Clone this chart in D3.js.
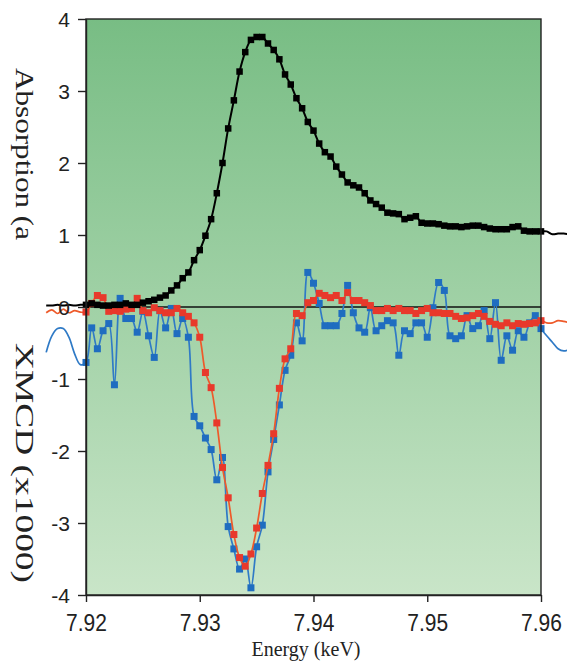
<!DOCTYPE html>
<html>
<head>
<meta charset="utf-8">
<script src="https://cdn.jsdelivr.net/npm/d3@7"></script>
<style>
  body { margin: 0; background: #fff; }
  svg { display: block; }
</style>
</head>
<body>
<svg id="chart" width="567" height="661"></svg>
<script>
// Photon energy grid (keV)
const energy = [
  7.9165, 7.9170, 7.9175, 7.9180, 7.9185, 7.9190, 7.9195, 7.9200, 7.9205, 7.9210,
  7.9215, 7.9220, 7.9225, 7.9230, 7.9235, 7.9240, 7.9245, 7.9250, 7.9255, 7.9260,
  7.9265, 7.9270, 7.9275, 7.9280, 7.9285, 7.9290, 7.9295, 7.9300, 7.9305, 7.9310,
  7.9315, 7.9320, 7.9325, 7.9330, 7.9335, 7.9340, 7.9345, 7.9350, 7.9355, 7.9360,
  7.9365, 7.9370, 7.9375, 7.9380, 7.9385, 7.9390, 7.9395, 7.9400, 7.9405, 7.9410,
  7.9415, 7.9420, 7.9425, 7.9430, 7.9435, 7.9440, 7.9445, 7.9450, 7.9455, 7.9460,
  7.9465, 7.9470, 7.9475, 7.9480, 7.9485, 7.9490, 7.9495, 7.9500, 7.9505, 7.9510,
  7.9515, 7.9520, 7.9525, 7.9530, 7.9535, 7.9540, 7.9545, 7.9550, 7.9555, 7.9560,
  7.9565, 7.9570, 7.9575, 7.9580, 7.9585, 7.9590, 7.9595, 7.9600, 7.9605, 7.9610,
  7.9615, 7.9620, 7.9625
];

// Normalised absorption
const absorption = [
  0.02, 0.02, 0.03, 0.02, 0.03, 0.02, 0.03, 0.03, 0.05, 0.03,
  0.02, 0.02, 0.03, 0.03, 0.05, 0.03, 0.03, 0.06, 0.08, 0.10,
  0.13, 0.16, 0.23, 0.30, 0.40, 0.48, 0.65, 0.79, 0.99, 1.22,
  1.58, 2.00, 2.48, 2.87, 3.27, 3.54, 3.71, 3.75, 3.75, 3.66,
  3.57, 3.44, 3.23, 3.09, 2.90, 2.76, 2.57, 2.45, 2.27, 2.15,
  2.09, 1.95, 1.84, 1.73, 1.69, 1.66, 1.58, 1.48, 1.43, 1.38,
  1.31, 1.30, 1.29, 1.22, 1.24, 1.26, 1.17, 1.16, 1.16, 1.15,
  1.13, 1.12, 1.12, 1.11, 1.12, 1.13, 1.13, 1.11, 1.09, 1.08,
  1.08, 1.08, 1.11, 1.12, 1.06, 1.05, 1.05, 1.05, 1.05, 1.01,
  1.02, 1.02, 1.01
];

// XMCD signal (x1000), red series
const xmcdRed = [
  -0.08, -0.04, -0.09, -0.03, -0.08, -0.05, -0.07, -0.07, 0.05, 0.16,
  0.13, -0.06, -0.05, -0.06, -0.03, -0.02, 0.12, -0.05, -0.08, -0.01,
  -0.05, -0.08, -0.08, -0.02, -0.08, -0.13, -0.22, -0.42, -0.91, -1.12,
  -1.61, -2.23, -2.65, -3.16, -3.48, -3.60, -3.43, -3.07, -2.59, -2.20,
  -1.76, -1.13, -0.72, -0.58, -0.09, -0.12, 0.06, 0.09, 0.19, 0.16,
  0.13, 0.16, 0.09, 0.20, 0.09, 0.09, 0.06, 0.02, -0.05, -0.05,
  -0.02, -0.05, -0.02, -0.05, -0.05, -0.09, -0.05, -0.02, -0.08, -0.08,
  -0.09, -0.09, -0.13, -0.16, -0.15, -0.12, -0.09, -0.13, -0.20, -0.24,
  -0.26, -0.22, -0.26, -0.23, -0.24, -0.23, -0.22, -0.19, -0.22, -0.22,
  -0.19, -0.20, -0.22
];

// XMCD signal (x1000), blue series
const xmcdBlue = [
  -0.63, -0.40, -0.30, -0.30, -0.42, -0.65, -0.80, -0.77, -0.29, -0.58,
  -0.33, -0.23, -1.08, 0.12, -0.16, -0.16, -0.35, -0.06, -0.40, -0.70,
  -0.05, -0.29, -0.02, -0.37, -0.16, -0.42, -1.52, -1.65, -1.82, -1.98,
  -2.40, -2.09, -3.05, -3.36, -3.64, -3.50, -3.90, -3.33, -3.03, -2.29,
  -1.84, -1.36, -0.88, -0.67, -0.22, -0.47, 0.48, 0.33, 0.05, -0.26,
  -0.26, -0.26, -0.09, 0.30, -0.08, -0.29, -0.35, -0.01, -0.33, -0.26,
  -0.19, -0.22, -0.67, -0.33, -0.37, -0.22, -0.22, -0.42, -0.01, 0.34,
  0.23, -0.40, -0.44, -0.40, -0.12, -0.30, -0.26, -0.05, -0.44, 0.06,
  -0.74, -0.40, -0.60, -0.33, -0.42, -0.22, -0.12, -0.30, -0.40, -0.49,
  -0.58, -0.61, -0.59
];

const xTicks = [7.92, 7.93, 7.94, 7.95, 7.96];
const yTicks = [4, 3, 2, 1, 0, -1, -2, -3, -4];
const xTitle = "Energy (keV)";
const yTitleTop = "Absorption (a";
const yTitleBottom = "XMCD (x1000)";

const svg = d3.select("#chart");
const plot = { left: 86, right: 541, top: 19, bottom: 595 };

const x = d3.scaleLinear().domain([7.92, 7.96]).range([plot.left, plot.right]);
const y = d3.scaleLinear().domain([-4, 4]).range([plot.bottom, plot.top]);

// green background panel, darker at the top
const defs = svg.append("defs");
const grad = defs.append("linearGradient")
  .attr("id", "panelFill").attr("x1", 0).attr("y1", 0).attr("x2", 0).attr("y2", 1);
grad.append("stop").attr("offset", "0%").attr("stop-color", "rgb(120,189,132)");
grad.append("stop").attr("offset", "100%").attr("stop-color", "rgb(201,229,200)");

svg.append("rect")
  .attr("x", plot.left).attr("y", plot.top)
  .attr("width", plot.right - plot.left).attr("height", plot.bottom - plot.top)
  .attr("fill", "url(#panelFill)");

// zero reference line
svg.append("line")
  .attr("x1", plot.left).attr("x2", plot.right)
  .attr("y1", y(0)).attr("y2", y(0))
  .attr("stroke", "#111").attr("stroke-width", 1.6);

const rows = energy.map((e, i) => ({ e, a: absorption[i], r: xmcdRed[i], b: xmcdBlue[i] }));
const inside = rows.filter(d => d.e >= 7.92 - 1e-9 && d.e <= 7.96 + 1e-9);

function drawSeries(key, lineColor, markColor, lineWidth, size) {
  const line = d3.line()
    .x(d => x(d.e)).y(d => y(d[key]))
    .curve(d3.curveCatmullRom.alpha(0.5));
  svg.append("path")
    .datum(rows)
    .attr("d", line)
    .attr("fill", "none")
    .attr("stroke", lineColor)
    .attr("stroke-width", lineWidth)
    .attr("stroke-linejoin", "round");
  svg.append("g")
    .selectAll("rect")
    .data(inside)
    .join("rect")
    .attr("x", d => x(d.e) - size / 2)
    .attr("y", d => y(d[key]) - size / 2)
    .attr("width", size).attr("height", size)
    .attr("fill", markColor);
}

drawSeries("b", "#2f7ac6", "#1f6dc0", 1.7, 7);
drawSeries("r", "#ee5a2a", "#e8392b", 1.7, 7);
drawSeries("a", "#000", "#000", 2, 6.5);

// frame
svg.append("rect")
  .attr("x", plot.left).attr("y", plot.top)
  .attr("width", plot.right - plot.left).attr("height", plot.bottom - plot.top)
  .attr("fill", "none").attr("stroke", "#222").attr("stroke-width", 1.4);

// axes
const xAxis = svg.append("g")
  .attr("transform", `translate(0,${plot.bottom})`)
  .call(d3.axisBottom(x).tickValues(xTicks).tickSize(7).tickSizeOuter(0)
    .tickFormat(d3.format(".2f")));
const yAxis = svg.append("g")
  .attr("transform", `translate(${plot.left},0)`)
  .call(d3.axisLeft(y).tickValues(yTicks).tickSize(8).tickSizeOuter(0)
    .tickFormat(d => String(d)));

[xAxis, yAxis].forEach(g => {
  g.select(".domain").attr("stroke", "#222").attr("stroke-width", 1.4);
  g.selectAll(".tick line").attr("stroke", "#222").attr("stroke-width", 1.4);
  g.selectAll(".tick text")
    .attr("fill", "#222")
    .style("font-family", "'Liberation Sans', Arial, sans-serif")
    .style("font-size", "21px");
});
xAxis.selectAll(".tick text")
  .attr("y", null).attr("dy", null)
  .attr("transform", "translate(0,36) scale(1,1.12)");
yAxis.selectAll(".tick text")
  .attr("x", -16).attr("dy", "0.36em");

// axis titles
svg.append("text")
  .attr("x", 306).attr("y", 656)
  .attr("text-anchor", "middle")
  .style("font-family", "'Liberation Serif', 'Times New Roman', serif")
  .style("font-size", "20px")
  .attr("fill", "#222")
  .text(xTitle);

svg.append("text")
  .attr("transform", "translate(16,68) rotate(90)")
  .attr("textLength", 172).attr("lengthAdjust", "spacingAndGlyphs")
  .style("font-family", "'Liberation Serif', 'Times New Roman', serif")
  .style("font-size", "25px")
  .attr("fill", "#222")
  .text(yTitleTop);

svg.append("text")
  .attr("transform", "translate(16,343) rotate(90)")
  .attr("textLength", 240).attr("lengthAdjust", "spacingAndGlyphs")
  .style("font-family", "'Liberation Serif', 'Times New Roman', serif")
  .style("font-size", "25px")
  .attr("fill", "#222")
  .text(yTitleBottom);
</script>
</body>
</html>
